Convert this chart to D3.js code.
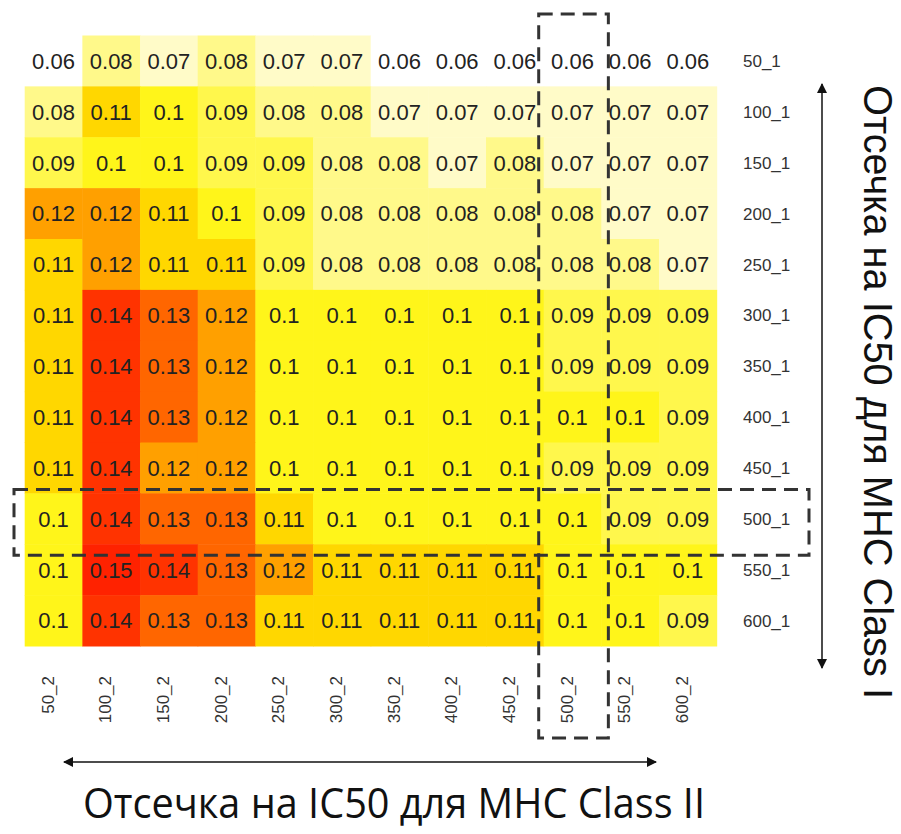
<!DOCTYPE html>
<meta charset="utf-8">
<head>
<style>
body {
  margin: 0;
  background: white;
}
.cell-text {
  font-family: 'Liberation Sans', Arial, sans-serif;
  font-size: 22px;
  fill: #222;
}
.tick-label {
  font-family: 'Liberation Sans', Arial, sans-serif;
  font-size: 17px;
  fill: #333;
}
.title {
  fill: #111;
}
</style>
<script src="https://d3js.org/d3.v7.min.js"></script>
</head>
<body>
<svg id="chart"></svg>

<script>

// row labels (MHC class I cutoff) and column labels (MHC class II cutoff)
var rowLabels = ["50_1", "100_1", "150_1", "200_1", "250_1", "300_1",
                 "350_1", "400_1", "450_1", "500_1", "550_1", "600_1"]
var colLabels = ["50_2", "100_2", "150_2", "200_2", "250_2", "300_2",
                 "350_2", "400_2", "450_2", "500_2", "550_2", "600_2"]

// one array per row, values left to right
var r50  = [0.06, 0.08, 0.07, 0.08, 0.07, 0.07, 0.06, 0.06, 0.06, 0.06, 0.06, 0.06]
var r100 = [0.08, 0.11, 0.1,  0.09, 0.08, 0.08, 0.07, 0.07, 0.07, 0.07, 0.07, 0.07]
var r150 = [0.09, 0.1,  0.1,  0.09, 0.09, 0.08, 0.08, 0.07, 0.08, 0.07, 0.07, 0.07]
var r200 = [0.12, 0.12, 0.11, 0.1,  0.09, 0.08, 0.08, 0.08, 0.08, 0.08, 0.07, 0.07]
var r250 = [0.11, 0.12, 0.11, 0.11, 0.09, 0.08, 0.08, 0.08, 0.08, 0.08, 0.08, 0.07]
var r300 = [0.11, 0.14, 0.13, 0.12, 0.1,  0.1,  0.1,  0.1,  0.1,  0.09, 0.09, 0.09]
var r350 = [0.11, 0.14, 0.13, 0.12, 0.1,  0.1,  0.1,  0.1,  0.1,  0.09, 0.09, 0.09]
var r400 = [0.11, 0.14, 0.13, 0.12, 0.1,  0.1,  0.1,  0.1,  0.1,  0.1,  0.1,  0.09]
var r450 = [0.11, 0.14, 0.12, 0.12, 0.1,  0.1,  0.1,  0.1,  0.1,  0.09, 0.09, 0.09]
var r500 = [0.1,  0.14, 0.13, 0.13, 0.11, 0.1,  0.1,  0.1,  0.1,  0.1,  0.09, 0.09]
var r550 = [0.1,  0.15, 0.14, 0.13, 0.12, 0.11, 0.11, 0.11, 0.11, 0.1,  0.1,  0.1]
var r600 = [0.1,  0.14, 0.13, 0.13, 0.11, 0.11, 0.11, 0.11, 0.11, 0.1,  0.1,  0.09]

var rows = [r50, r100, r150, r200, r250, r300, r350, r400, r450, r500, r550, r600]

// highlighted row / column
var selRow = "500_1"
var selCol = "500_2"

var titleX = "Отсечка на IC50 для MHC Class II"
var titleY = "Отсечка на IC50 для MHC Class I"

var width = 901
var height = 834

var cells = []
rows.forEach(function (vals, i) {
  vals.forEach(function (v, j) {
    cells.push({row: rowLabels[i], col: colLabels[j], value: v})
  })
})

var svg = d3.select('#chart')
  .attr('width', width)
  .attr('height', height)

var x = d3.scaleBand()
  .domain(colLabels)
  .range([24.7, 716.7])

var y = d3.scaleBand()
  .domain(rowLabels)
  .range([35.5, 646])

// heat colours, white for the lowest up to red for the highest
var color = d3.scaleThreshold()
  .domain([0.065, 0.075, 0.085, 0.095, 0.105, 0.115, 0.125, 0.135, 0.145])
  .range(['#ffffff', '#fffbc8', '#fff98a', '#fff74c', '#fff51a',
          '#ffd700', '#ffa000', '#ff6600', '#ff3300', '#ff2200'])

svg.append('g')
  .selectAll('rect')
  .data(cells)
  .enter().append('rect')
  .attr('x', function (d) { return x(d.col) })
  .attr('y', function (d) { return y(d.row) })
  .attr('width', x.bandwidth() + 0.5)
  .attr('height', y.bandwidth() + 0.5)
  .style('fill', function (d) { return color(d.value) })

svg.append('g')
  .selectAll('text')
  .data(cells)
  .enter().append('text')
  .attr('class', 'cell-text')
  .attr('x', function (d) { return x(d.col) + x.bandwidth() / 2 })
  .attr('y', function (d) { return y(d.row) + y.bandwidth() / 2 })
  .attr('text-anchor', 'middle')
  .attr('dy', '0.36em')
  .text(function (d) { return d.value })

// row labels on the right
svg.append('g')
  .selectAll('text')
  .data(rowLabels)
  .enter().append('text')
  .attr('class', 'tick-label')
  .attr('x', 743)
  .attr('y', function (d) { return y(d) + y.bandwidth() / 2 })
  .attr('dy', '0.36em')
  .text(function (d) { return d })

// column labels, rotated
svg.append('g')
  .selectAll('text')
  .data(colLabels)
  .enter().append('text')
  .attr('class', 'tick-label')
  .attr('text-anchor', 'end')
  .attr('transform', function (d) {
    return 'translate(' + (x(d) + x.bandwidth() / 2) + ',676) rotate(-90)'
  })
  .text(function (d) { return d })

// dashed boxes
svg.append('rect')
  .attr('x', x(selCol) - 5)
  .attr('y', 14)
  .attr('width', x.bandwidth() + 12)
  .attr('height', 724)
  .style('fill', 'none')
  .style('stroke', '#333')
  .style('stroke-width', 3)
  .style('stroke-dasharray', '14,8')

svg.append('rect')
  .attr('x', 14)
  .attr('y', y(selRow) - 4)
  .attr('width', 795)
  .attr('height', y.bandwidth() + 15)
  .style('fill', 'none')
  .style('stroke', '#333')
  .style('stroke-width', 3)
  .style('stroke-dasharray', '14,8')

// arrows
var defs = svg.append('defs')
defs.append('marker')
  .attr('id', 'head')
  .attr('viewBox', '0 0 10 10')
  .attr('refX', 9)
  .attr('refY', 5)
  .attr('markerWidth', 12)
  .attr('markerHeight', 10)
  .attr('markerUnits', 'userSpaceOnUse')
  .attr('orient', 'auto-start-reverse')
  .append('path')
  .attr('d', 'M0,0 L10,5 L0,10 Z')
  .style('fill', '#111')

svg.append('line')
  .attr('x1', 822).attr('y1', 84)
  .attr('x2', 822).attr('y2', 668)
  .style('stroke', '#111')
  .style('stroke-width', 1.5)
  .attr('marker-start', 'url(#head)')
  .attr('marker-end', 'url(#head)')

svg.append('line')
  .attr('x1', 64).attr('y1', 762)
  .attr('x2', 656).attr('y2', 762)
  .style('stroke', '#111')
  .style('stroke-width', 1.5)
  .attr('marker-start', 'url(#head)')
  .attr('marker-end', 'url(#head)')

// axis titles
svg.append('text')
  .attr('class', 'title')
  .attr('x', 394)
  .attr('y', 818)
  .attr('text-anchor', 'middle')
  .attr('textLength', 622)
  .attr('lengthAdjust', 'spacingAndGlyphs')
  .style('font-family', "'Liberation Sans Narrow', 'Open Sans', sans-serif")
  .style('font-size', '42px')
  .text(titleX)

svg.append('text')
  .attr('class', 'title')
  .attr('transform', 'translate(864,392) rotate(90)')
  .attr('text-anchor', 'middle')
  .attr('textLength', 614)
  .attr('lengthAdjust', 'spacingAndGlyphs')
  .style('font-family', "'Liberation Sans', Arial, sans-serif")
  .style('font-size', '40px')
  .text(titleY)

</script>
</body>
</html>
